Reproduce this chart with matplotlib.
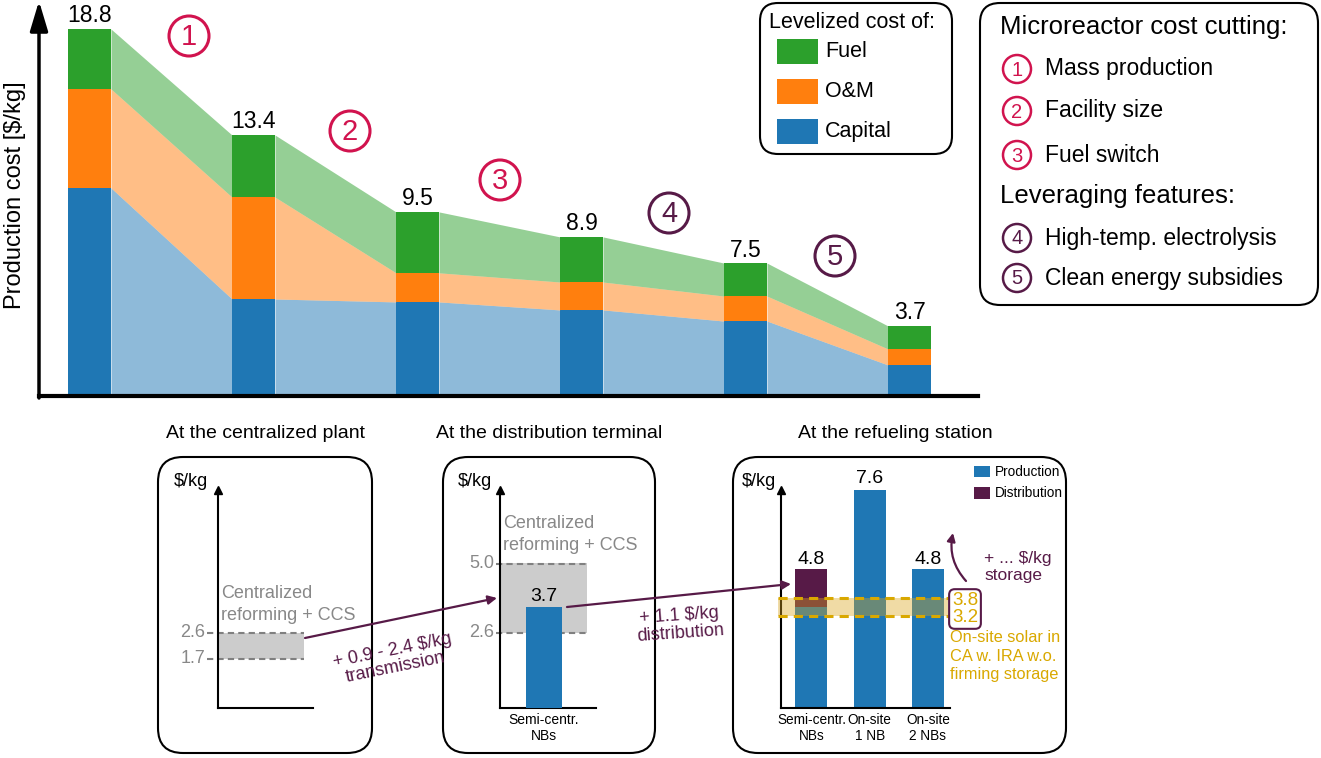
import numpy as np
import matplotlib
matplotlib.use('Agg')
import matplotlib.pyplot as plt
from matplotlib.patches import FancyBboxPatch, Rectangle, Circle

plt.rcParams['font.family'] = ['Liberation Sans', 'DejaVu Sans']

# Data
steps = np.arange(6)
capital = [10.66, 4.97, 4.82, 4.41, 3.84, 1.59]
om = [5.07, 5.22, 1.49, 1.43, 1.28, 0.82]
fuel = [3.07, 3.18, 3.12, 2.31, 1.69, 1.18]
total_labels = ['18.8', '13.4', '9.5', '8.9', '7.5', '3.7']

cut_labels = ['Mass production', 'Facility size', 'Fuel switch']
feature_labels = ['High-temp. electrolysis', 'Clean energy subsidies']

central_range = [1.7, 2.6]
terminal_range = [2.6, 5.0]
terminal_bar = [3.5]
terminal_label = ['3.7']

station_cats = ['Semi-centr.\nNBs', 'On-site\n1 NB', 'On-site\n2 NBs']
station_prod = [3.5, 7.6, 4.8]
station_dist = [1.3, 0.0, 0.0]
station_labels = ['4.8', '7.6', '4.8']
solar_range = [3.2, 3.8]

BLUE, ORANGE, GREEN = '#1f77b4', '#ff7f0e', '#2ca02c'
CRIMSON, PURPLE = '#D1134E', '#571A47'
GOLD = '#D9A800'

W, H = 1321, 758
fig = plt.figure(figsize=(W / 100, H / 100), dpi=100)


def px_axes(x0, y0, x1, y1, **kw):
    return fig.add_axes([x0 / W, 1 - y1 / H, (x1 - x0) / W, (y1 - y0) / H], **kw)


# ---------- top chart ----------
ax = px_axes(39, 0, 978, 396)
pxu = 164.0
wb = 43 / pxu
ax.set_xlim(-(89.5 - 39) / pxu, (978 - 89.5) / pxu)
ax.set_ylim(0, 396 / 19.52)
cap = np.array(capital)
capom = cap + np.array(om)
tot = capom + np.array(fuel)
ax.bar(steps, cap, width=wb, color=BLUE, lw=0)
ax.bar(steps, om, bottom=cap, width=wb, color=ORANGE, lw=0)
ax.bar(steps, fuel, bottom=capom, width=wb, color=GREEN, lw=0)
for i in range(5):
    xs = [i + wb / 2, i + 1 - wb / 2]
    ax.fill_between(xs, [0, 0], cap[i:i + 2], color=BLUE, alpha=0.5, lw=0)
    ax.fill_between(xs, cap[i:i + 2], capom[i:i + 2], color=ORANGE, alpha=0.5, lw=0)
    ax.fill_between(xs, capom[i:i + 2], tot[i:i + 2], color=GREEN, alpha=0.5, lw=0)
for i, lab in enumerate(total_labels):
    ax.text(i, tot[i] + 0.08, lab, ha='center', va='bottom', fontsize=16.5)
for s in ['top', 'right', 'left']:
    ax.spines[s].set_visible(False)
ax.spines['bottom'].set_linewidth(3)
ax.set_xticks([])
ax.set_yticks([])


# ---------- small panels ----------
def small_axes(x0, x1, xl, xr):
    a = px_axes(x0, 490, x1, 708)
    a.set_xlim(xl, xr)
    a.set_ylim(0, 218 / 28.9)
    for s in ['top', 'right']:
        a.spines[s].set_visible(False)
    for s in ['left', 'bottom']:
        a.spines[s].set_linewidth(1.5)
    a.plot(0, 1, '^', transform=a.transAxes, color='k', ms=6, clip_on=False)
    a.set_yticks([])
    a.tick_params(length=0)
    return a


def range_band(a, lo_hi, xl, xr, xlab):
    a.fill_between([xl, xr], lo_hi[0], lo_hi[1], color='#cccccc', lw=0)
    a.hlines(lo_hi, xl - xlab, xr, colors='#808080', linestyles=(0, (3, 2)), lw=1.5, clip_on=False)
    for v in lo_hi:
        a.text(xl - xlab - 0.02 * (xr - xl), v, f'{v:.1f}', ha='right', va='center',
               color='#888888', fontsize=13, clip_on=False)


# panel 1
ax1 = small_axes(218, 313, 0, 1)
range_band(ax1, central_range, 0, 0.9, 0.12)
ax1.set_xticks([])

# panel 2
u = 58.0
ax2 = small_axes(500, 596, -(544 - 500) / u, (596 - 544) / u)
range_band(ax2, terminal_range, -(544 - 500) / u, (587 - 544) / u, 0.07)
ax2.bar([0], terminal_bar, width=36 / u, color=BLUE, lw=0, zorder=3)
ax2.text(0, terminal_bar[0] + 0.05, terminal_label[0], ha='center', va='bottom', fontsize=14)
ax2.set_xticks([0])
ax2.set_xticklabels(['Semi-centr.\nNBs'], fontsize=10)

# panel 3
u3 = 58.25
ax3 = small_axes(781, 950, -30.5 / u3, (950 - 811.5) / u3)
x3 = np.arange(3)
ax3.bar(x3, station_prod, width=32 / u3, color=BLUE, lw=0, zorder=2)
ax3.bar(x3, station_dist, bottom=station_prod, width=32 / u3, color=PURPLE, lw=0, zorder=2)
for i, lab in enumerate(station_labels):
    ax3.text(i, station_prod[i] + station_dist[i] + 0.05, lab, ha='center', va='bottom', fontsize=14)
bl, br = (778 - 811.5) / u3, (948 - 811.5) / u3
ax3.fill_between([bl, br], solar_range[0], solar_range[1], color='#DAA520', alpha=0.4, lw=0,
                 zorder=3, clip_on=False)
ax3.hlines(solar_range, bl, br, colors=GOLD, linestyles=(0, (3, 2)), lw=2.2, zorder=4, clip_on=False)
ax3.set_xticks(x3)
ax3.set_xticklabels(station_cats, fontsize=9.8)

# ---------- overlay for frames, arrows, annotations ----------
ov = fig.add_axes([0, 0, 1, 1], zorder=10)
ov.set_xlim(0, W)
ov.set_ylim(H, 0)
ov.axis('off')
ov.patch.set_alpha(0)

ov.annotate('', xy=(39, 1), xytext=(39, 398),
            arrowprops=dict(arrowstyle='-|>,head_length=1.0,head_width=0.3', lw=2.5, color='k',
                            mutation_scale=18, shrinkA=0, shrinkB=0))
ov.text(15, 195, 'Production cost [$/kg]', rotation=90, fontsize=17, ha='center', va='center')

circ_pos = [(189, 36), (350, 131), (500, 180), (669, 213), (835, 256)]
for k, (cx, cy) in enumerate(circ_pos):
    col = CRIMSON if k < 3 else PURPLE
    ov.add_patch(Circle((cx, cy), 20, fill=False, ec=col, lw=2.2))
    ov.text(cx, cy + 1, str(k + 1), color=col, fontsize=21, ha='center', va='center')

# legend box 1
ov.add_patch(FancyBboxPatch((760, 3), 192, 151, boxstyle='round,pad=0,rounding_size=18',
                            fc='white', ec='k', lw=1.5))
ov.text(769, 23, 'Levelized cost of:', fontsize=15.5, ha='left', va='center')
for yy, col, lab in [(39, GREEN, 'Fuel'), (79, ORANGE, 'O&M'), (119, BLUE, 'Capital')]:
    ov.add_patch(Rectangle((777, yy), 41, 25, color=col, lw=0))
    ov.text(825, yy + 12.5, lab, fontsize=15.5, ha='left', va='center')

# legend box 2
ov.add_patch(FancyBboxPatch((980, 3), 338, 302, boxstyle='round,pad=0,rounding_size=20',
                            fc='white', ec='k', lw=1.5))
ov.text(1000, 27, 'Microreactor cost cutting:', fontsize=18.5, ha='left', va='center')
ov.text(1000, 196, 'Leveraging features:', fontsize=18.5, ha='left', va='center')
items = list(zip([69, 111, 155], cut_labels, [CRIMSON] * 3)) + \
    list(zip([238, 278], feature_labels, [PURPLE] * 2))
for k, (yy, lab, col) in enumerate(items):
    ov.add_patch(Circle((1017, yy), 14, fill=False, ec=col, lw=1.8))
    ov.text(1017, yy + 1, str(k + 1), color=col, fontsize=14.5, ha='center', va='center')
    ov.text(1045, yy, lab, fontsize=16.5, ha='left', va='center')

# panel frames and titles
for (x0, x1, xc, title) in [(158, 372, 265, 'At the centralized plant'),
                            (443, 655, 549, 'At the distribution terminal'),
                            (733, 1066, 895, 'At the refueling station')]:
    ov.add_patch(FancyBboxPatch((x0, 457), x1 - x0, 296, boxstyle='round,pad=0,rounding_size=25',
                                fc='none', ec='k', lw=1.5))
    ov.text(xc, 433, title, fontsize=14, ha='center', va='center')

for xx in [191, 475, 759]:
    ov.text(xx, 482, '$/kg', fontsize=13, ha='center', va='center')

ov.text(221, 593, 'Centralized', color='#888888', fontsize=13, ha='left', va='center')
ov.text(221, 615, 'reforming + CCS', color='#888888', fontsize=13, ha='left', va='center')
ov.text(503, 523, 'Centralized', color='#888888', fontsize=13, ha='left', va='center')
ov.text(503, 545, 'reforming + CCS', color='#888888', fontsize=13, ha='left', va='center')

# transfer arrows
ov.annotate('', xy=(497, 598), xytext=(305, 638),
            arrowprops=dict(arrowstyle='-|>', color=PURPLE, lw=1.6, mutation_scale=13, shrinkA=0, shrinkB=0))
ov.text(394, 659, '+ 0.9 - 2.4 $/kg\ntransmission', color=PURPLE, fontsize=13, ha='center',
        va='center', rotation=11.5, rotation_mode='anchor', linespacing=1.05)
ov.annotate('', xy=(791, 584), xytext=(567, 607),
            arrowprops=dict(arrowstyle='-|>', color=PURPLE, lw=1.6, mutation_scale=13, shrinkA=0, shrinkB=0))
ov.text(680, 625, '+ 1.1 $/kg\ndistribution', color=PURPLE, fontsize=13, ha='center',
        va='center', rotation=4, rotation_mode='anchor', linespacing=1.05)

# storage arrow
ov.annotate('', xy=(953, 533), xytext=(966, 581),
            arrowprops=dict(arrowstyle='-|>', color=PURPLE, lw=1.6, mutation_scale=12, shrinkA=0,
                            shrinkB=0, connectionstyle='arc3,rad=-0.25'))
ov.text(984, 567, '+ ... $/kg\nstorage', color=PURPLE, fontsize=12.5, ha='left', va='center',
        linespacing=1.2)
ov.text(965, 609, '3.8\n3.2', color=GOLD, fontsize=13.5, ha='center', va='center', linespacing=1.0,
        bbox=dict(boxstyle='round,pad=0.15,rounding_size=0.3', fc='white', ec=PURPLE, lw=1.5))
ov.text(950, 630, 'On-site solar in\nCA w. IRA w.o.\nfirming storage', color=GOLD, fontsize=11.8,
        ha='left', va='top', linespacing=1.3)

# station legend
ov.add_patch(Rectangle((974, 466), 16, 11, color=BLUE, lw=0))
ov.text(995, 471.5, 'Production', fontsize=9.8, ha='left', va='center')
ov.add_patch(Rectangle((974, 487), 16, 12, color=PURPLE, lw=0))
ov.text(995, 493, 'Distribution', fontsize=9.8, ha='left', va='center')

fig.savefig('out.png', dpi=100)
